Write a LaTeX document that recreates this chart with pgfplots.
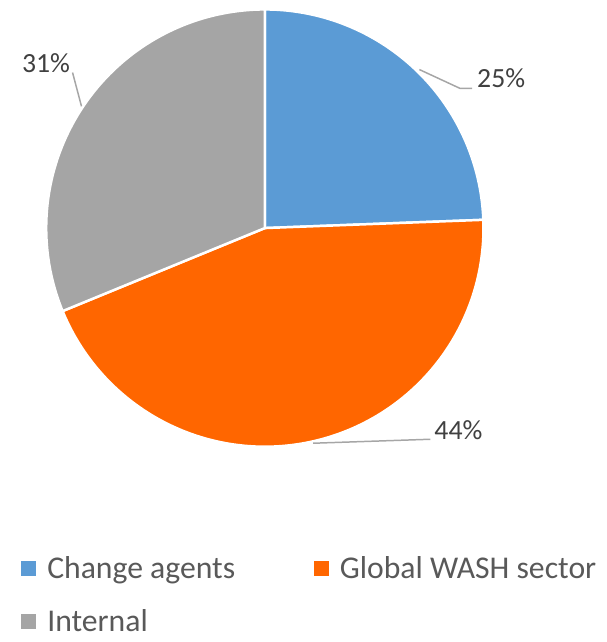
\documentclass[border=0pt]{standalone}
\usepackage{pgfplots}
\pgfplotsset{compat=1.18}
\usepackage{pgfplotstable}
\usepackage{fontspec}
\setmainfont{Carlito}
\definecolor{cblue}{HTML}{5B9BD5}
\definecolor{corange}{HTML}{FF6600}
\definecolor{cgray}{HTML}{A5A5A5}
\definecolor{ctext}{HTML}{595959}
\definecolor{clabel}{HTML}{404040}
\definecolor{cline}{HTML}{A6A6A6}

\pgfplotstableread{
value
24.4
44.4
31.2
}\piedata

\begin{document}
\begin{tikzpicture}
\pgfplotstablegetelem{0}{value}\of\piedata \pgfmathsetmacro\va{\pgfplotsretval}
\pgfplotstablegetelem{1}{value}\of\piedata \pgfmathsetmacro\vb{\pgfplotsretval}
\pgfplotstablegetelem{2}{value}\of\piedata \pgfmathsetmacro\vc{\pgfplotsretval}
\pgfmathsetmacro\aA{90}
\pgfmathsetmacro\aB{90-3.6*\va}
\pgfmathsetmacro\aC{\aB-3.6*\vb}
\pgfmathsetmacro\aD{\aC-3.6*\vc}
\begin{axis}[
  name=ax,
  scale only axis, width=610bp, height=642bp,
  xmin=0, xmax=610, ymin=-642, ymax=0,
  hide axis, clip=false,
  legend columns=2,
  legend cell align=left,
  legend style={draw=none, fill=none, at={(axis cs:21,-558)}, anchor=north west,
    font=\fontsize{32}{38}\selectfont\color{ctext}, inner sep=0pt,
    row sep=25bp,
    /tikz/every even column/.append style={column sep=77bp}},
]
\addplot[fill=cblue, draw=white, line width=2.5bp, domain=\aB:\aA, samples=120, variable=\t, forget plot]
  ({266.5+220*cos(\t)},{-229.5+220*sin(\t)}) -- (axis cs:266.5,-229.5) -- cycle;
\addplot[fill=corange, draw=white, line width=2.5bp, domain=\aC:\aB, samples=160, variable=\t, forget plot]
  ({266.5+220*cos(\t)},{-229.5+220*sin(\t)}) -- (axis cs:266.5,-229.5) -- cycle;
\addplot[fill=cgray, draw=white, line width=2.5bp, domain=\aD:\aC, samples=120, variable=\t, forget plot]
  ({266.5+220*cos(\t)},{-229.5+220*sin(\t)}) -- (axis cs:266.5,-229.5) -- cycle;

% leader lines
\draw[cline, line width=1.5bp] (axis cs:422,-70) -- (axis cs:463,-89) -- (axis cs:475,-89);
\draw[cline, line width=1.5bp] (axis cs:82,-107) -- (axis cs:73,-73);
\draw[cline, line width=1.5bp] (axis cs:315,-446) -- (axis cs:433,-442);

% data labels
\node[anchor=base west, inner sep=0pt, text=clabel, font=\fontsize{28}{34}\selectfont] at (axis cs:480,-88) {25\%};
\node[anchor=base west, inner sep=0pt, text=clabel, font=\fontsize{28}{34}\selectfont] at (axis cs:22,-73) {31\%};
\node[anchor=base west, inner sep=0pt, text=clabel, font=\fontsize{28}{34}\selectfont] at (axis cs:437,-442) {44\%};

\addlegendimage{legend image code/.code={\fill[cblue] (0bp,-7bp) rectangle (14bp,7bp); \path (24bp,0bp);}}
\addlegendentry{Change agents}
\addlegendimage{legend image code/.code={\fill[corange] (0bp,-7bp) rectangle (14bp,7bp); \path (24bp,0bp);}}
\addlegendentry{Global WASH sector}
\addlegendimage{legend image code/.code={\fill[cgray] (0bp,-7bp) rectangle (14bp,7bp); \path (24bp,0bp);}}
\addlegendentry{Internal}
\end{axis}
\pgfresetboundingbox
\path ([yshift=-4bp]ax.south west) rectangle (ax.north east);
\end{tikzpicture}
\end{document}
